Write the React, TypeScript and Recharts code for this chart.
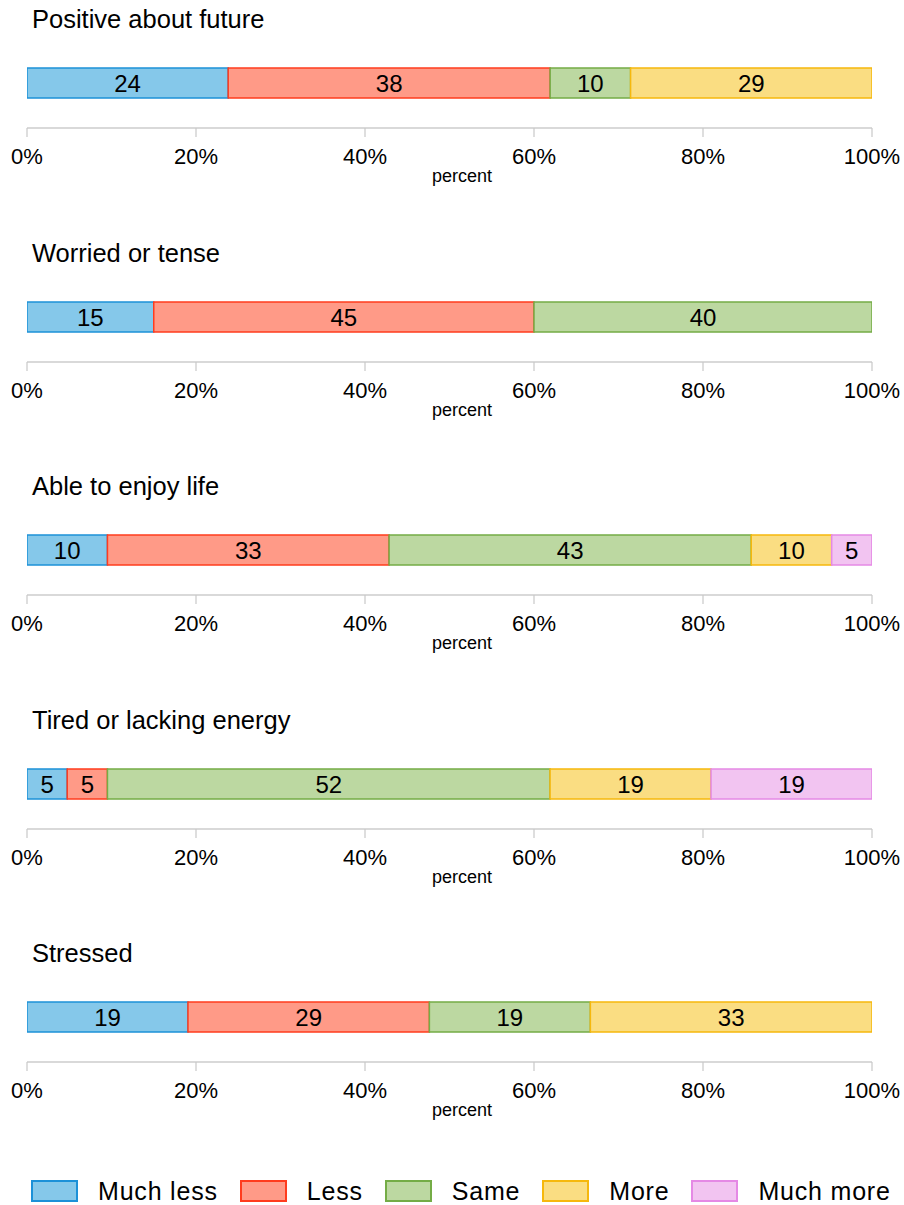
import React from "react";
import { BarChart, Bar, XAxis, YAxis, LabelList } from "recharts";

const categories = [
  "Positive about future",
  "Worried or tense",
  "Able to enjoy life",
  "Tired or lacking energy",
  "Stressed",
];
const muchLess = [23.81, 15, 9.52, 4.76, 19.05];
const less = [38.1, 45, 33.33, 4.76, 28.57];
const same = [9.52, 40, 42.86, 52.38, 19.05];
const more = [28.57, 0, 9.52, 19.05, 33.33];
const muchMore = [0, 0, 4.76, 19.05, 0];
const xTicks = [0, 20, 40, 60, 80, 100];

const seriesNames = ["Much less", "Less", "Same", "More", "Much more"];
const seriesKeys = ["muchLess", "less", "same", "more", "muchMore"];
const fills = ["#85C8EA", "#FF9A87", "#BCD8A1", "#FADD82", "#F2C4F1"];
const strokes = ["#1C91D8", "#FF3C1E", "#74AC46", "#F6B80D", "#E589E5"];

const FONT = "'Liberation Sans', Arial, Helvetica, sans-serif";
const PANEL_STEP = 233.6;

const renderLabel = (props: any) => {
  const { x, y, width, height, value } = props;
  if (!value) return null;
  return (
    <text
      x={Number(x) + Number(width) / 2}
      y={Number(y) + Number(height) / 2}
      textAnchor="middle"
      dominantBaseline="central"
      fontSize={24}
      fontFamily={FONT}
      fill="#000"
    >
      {Math.round(Number(value))}
    </text>
  );
};

function Panel({ index }: { index: number }) {
  const row: any = { name: categories[index] };
  row.muchLess = muchLess[index];
  row.less = less[index];
  row.same = same[index];
  row.more = more[index];
  row.muchMore = muchMore[index];
  const data = [row];
  const top = Math.round(index * PANEL_STEP);
  return (
    <div style={{ position: "absolute", left: 0, top, width: 904, height: 234 }}>
      <div
        style={{
          position: "absolute",
          left: 32,
          top: 7,
          fontSize: 25.5,
          lineHeight: "25px",
          fontFamily: FONT,
          color: "#000",
          whiteSpace: "nowrap",
        }}
      >
        {categories[index]}
      </div>
      <div style={{ position: "absolute", left: 0, top: 0 }}>
        <BarChart
          width={904}
          height={190}
          data={data}
          layout="vertical"
          margin={{ top: 38, right: 32, left: 27, bottom: 0 }}
          barSize={30}
        >
          <XAxis
            type="number"
            domain={[0, 100]}
            ticks={xTicks}
            allowDataOverflow
            tickFormatter={(v: number) => `${v}%`}
            height={62}
            tickSize={9}
            tickMargin={11}
            axisLine={{ stroke: "#B3B3B3", strokeWidth: 1.2 }}
            tickLine={{ stroke: "#C8C8C8", strokeWidth: 1.2 }}
            tick={{ fontSize: 22, fill: "#000", fontFamily: FONT }}
            interval={0}
            label={{
              content: (p: any) => {
                const vb = p.viewBox || {};
                return (
                  <text
                    x={904 / 2 + 10}
                    y={(vb.y ?? 128) + 54}
                    textAnchor="middle"
                    fontSize={18}
                    fontFamily={FONT}
                    fill="#000"
                  >
                    percent
                  </text>
                );
              },
            }}
          />
          <YAxis type="category" dataKey="name" hide />
          {seriesKeys.map((k, i) => (
            <Bar
              key={k}
              dataKey={k}
              name={seriesNames[i]}
              stackId="a"
              fill={fills[i]}
              stroke={strokes[i]}
              strokeWidth={1.5}
              isAnimationActive={false}
            >
              <LabelList dataKey={k} content={renderLabel} />
            </Bar>
          ))}
        </BarChart>
      </div>
    </div>
  );
}

function Legend() {
  return (
    <div
      style={{
        position: "absolute",
        left: 31,
        top: 1181,
        height: 20,
        display: "flex",
        alignItems: "center",
        fontFamily: FONT,
        fontSize: 25,
        letterSpacing: 0.8,
        color: "#000",
        whiteSpace: "nowrap",
      }}
    >
      {seriesNames.map((n, i) => (
        <div key={n} style={{ display: "flex", alignItems: "center", marginRight: 22 }}>
          <div
            style={{
              width: 43,
              height: 18,
              background: fills[i],
              border: `2px solid ${strokes[i]}`,
              marginRight: 20,
            }}
          />
          <span style={{ lineHeight: "20px" }}>{n}</span>
        </div>
      ))}
    </div>
  );
}

export default function App() {
  return (
    <div
      style={{
        position: "absolute",
        left: 0,
        top: 0,
        width: 904,
        height: 1205,
        background: "#fff",
        overflow: "hidden",
      }}
    >
      {categories.map((_, i) => (
        <Panel key={i} index={i} />
      ))}
      <Legend />
    </div>
  );
}
